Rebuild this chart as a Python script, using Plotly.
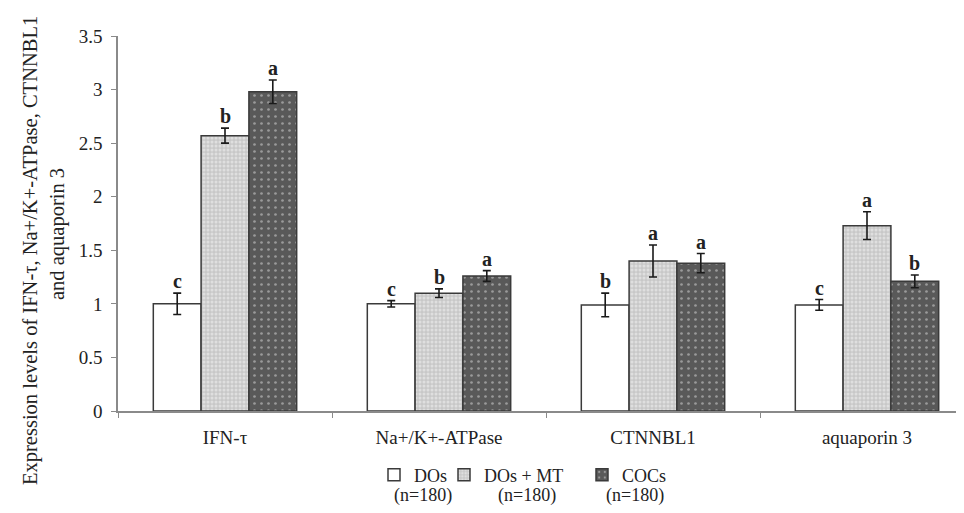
import plotly.graph_objects as go

categories = ["IFN-τ", "Na+/K+-ATPase", "CTNNBL1", "aquaporin 3"]
series_names = ["DOs", "DOs + MT", "COCs"]
n_labels = ["(n=180)", "(n=180)", "(n=180)"]

dos_vals = [1.00, 1.00, 0.99, 0.99]
dos_err = [0.10, 0.03, 0.11, 0.05]
dos_sig = ["c", "c", "b", "c"]

mt_vals = [2.57, 1.10, 1.40, 1.73]
mt_err = [0.07, 0.04, 0.15, 0.13]
mt_sig = ["b", "b", "a", "a"]

coc_vals = [2.98, 1.26, 1.38, 1.21]
coc_err = [0.11, 0.05, 0.09, 0.06]
coc_sig = ["a", "a", "a", "b"]

y_ticks = [0, 0.5, 1, 1.5, 2, 2.5, 3, 3.5]

FONT = "Liberation Serif, Times New Roman, serif"
OFF = 8  # page body margin
W, H = 964 - OFF, 513 - OFF
PLOT_L, PLOT_T, PLOT_B = 118, 36, 411  # page coordinates
ML = PLOT_L - OFF
MT_ = PLOT_T - OFF
MB = H - (PLOT_B - OFF)
MR = 0
PW = W - ML - MR
PH = H - MT_ - MB
CAT_PX = 214.0
x_max = -0.5 + PW / CAT_PX


def px_x(px):
    return (px - PLOT_L) / PW


def px_y(py):
    return (PLOT_B - py) / PH


styles = [
    dict(color="white", line=dict(color="#3a3a3a", width=1.5)),
    dict(color="#cbcbcb", line=dict(color="#3a3a3a", width=1.5),
         pattern=dict(shape=".", bgcolor="#c8c8c8", fgcolor="#f6f6f6", size=4, solidity=0.45)),
    dict(color="#595959", line=dict(color="#3a3a3a", width=1.5),
         pattern=dict(shape=".", bgcolor="#595959", fgcolor="#dcdcdc", size=7, solidity=0.12)),
]

vals = [dos_vals, mt_vals, coc_vals]
errs = [dos_err, mt_err, coc_err]
sigs = [dos_sig, mt_sig, coc_sig]
legend_ids = ["legend", "legend2", "legend3"]

fig = go.Figure()
for i in range(3):
    fig.add_trace(go.Bar(
        x=categories, y=vals[i], name=series_names[i],
        marker=styles[i], showlegend=True,
        error_y=dict(type="data", array=errs[i], color="#1a1a1a", thickness=1.6, width=4),
        legend=legend_ids[i],
    ))

bargap = 0.33
bar_w_px = (1 - bargap) / 3 * CAT_PX
annotations = []
for i in range(3):
    for j, c in enumerate(categories):
        annotations.append(dict(
            x=c, y=vals[i][j] + errs[i][j], xref="x", yref="y",
            text="<b>%s</b>" % sigs[i][j], showarrow=False,
            xshift=(i - 1) * bar_w_px, yanchor="bottom", yshift=-1,
            font=dict(family=FONT, size=20, color="#222"),
        ))

n_px = [423, 527, 635]
for k, t in enumerate(n_labels):
    annotations.append(dict(
        x=px_x(n_px[k]), y=px_y(496), xref="paper", yref="paper",
        text=t, showarrow=False, xanchor="center", yanchor="middle",
        font=dict(family=FONT, size=18, color="#222"),
    ))

annotations.append(dict(
    x=px_x(31), y=px_y(251), xref="paper", yref="paper",
    text="Expression levels of IFN-τ, Na+/K+-ATPase, CTNNBL1", textangle=-90,
    showarrow=False, xanchor="center", yanchor="middle",
    font=dict(family=FONT, size=20.5, color="#222"),
))
annotations.append(dict(
    x=px_x(57), y=px_y(234), xref="paper", yref="paper",
    text="and aquaporin 3", textangle=-90,
    showarrow=False, xanchor="center", yanchor="middle",
    font=dict(family=FONT, size=20.5, color="#222"),
))

leg_px = [374, 444, 582]
legs = {}
for k, lid in enumerate(legend_ids):
    legs[lid] = dict(orientation="h", yanchor="middle", xanchor="left",
                     x=px_x(leg_px[k]), y=px_y(475), bgcolor="rgba(0,0,0,0)",
                     font=dict(family=FONT, size=18, color="#222"),
                     itemclick=False, visible=True)

fig.update_layout(
    width=W, height=H,
    margin=dict(l=ML, r=MR, t=MT_, b=MB, autoexpand=False),
    paper_bgcolor="white", plot_bgcolor="white",
    barmode="group", bargap=bargap, bargroupgap=0,
    showlegend=True,
    font=dict(family=FONT, size=19, color="#222"),
    annotations=annotations,
    **legs,
)
fig.update_xaxes(
    range=[-0.5, x_max], showline=True, linecolor="#8a8a8a", linewidth=1.5,
    ticks="outside", tickson="boundaries", ticklen=5, tickcolor="#8a8a8a",
    ticklabelstandoff=8,
    tickfont=dict(family=FONT, size=19, color="#222"), showgrid=False,
)
fig.update_yaxes(
    range=[0, 3.5], tickvals=y_ticks, ticktext=[("%g" % v) for v in y_ticks],
    showline=True, linecolor="#8a8a8a", linewidth=1.5,
    ticks="outside", ticklen=5, tickcolor="#8a8a8a", ticklabelstandoff=5,
    tickfont=dict(family=FONT, size=19, color="#222"), showgrid=False, zeroline=False,
)
fig.write_html("out.html")
